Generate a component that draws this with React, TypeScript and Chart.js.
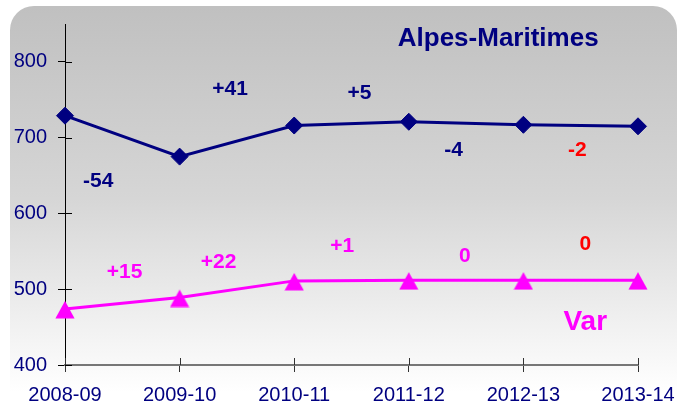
import React, { useEffect, useRef } from 'react';
import { Chart, registerables } from 'chart.js';

Chart.register(...registerables);

// ---- data ----
const seasons = ['2008-09', '2009-10', '2010-11', '2011-12', '2012-13', '2013-14'];
const alpesMaritimes = [729, 675, 716, 721, 717, 715];
const varDept = [474, 489, 511, 512, 512, 512];
const yTickValues = [400, 500, 600, 700, 800];

const amChanges = ['-54', '+41', '+5', '-4', '-2'];
const varChanges = ['+15', '+22', '+1', '0', '0'];

// annotation anchors in (category index, value) units
const amChangeX = [0.29, 1.44, 2.57, 3.39, 4.47];
const amChangeY = [643, 764, 759, 684, 684];
const varChangeX = [0.52, 1.34, 2.42, 3.49, 4.54];
const varChangeY = [523, 535, 557, 544, 559];

const NAVY = '#000080';
const MAGENTA = '#ff00ff';
const RED = '#ff0000';
const FONT = '"Liberation Sans", Arial, sans-serif';

function makeTriangle(color: string) {
  const c = document.createElement('canvas');
  c.width = 20;
  c.height = 20;
  const g = c.getContext('2d')!;
  g.fillStyle = color;
  g.beginPath();
  g.moveTo(10, 2);
  g.lineTo(19.6, 19.5);
  g.lineTo(0.4, 19.5);
  g.closePath();
  g.fill();
  return c;
}

const bgPlugin = {
  id: 'bgPanel',
  beforeDraw(chart: any) {
    const ctx = chart.ctx;
    const x0 = 10, y0 = 6, x1 = 677, y1 = 400, r = 24;
    ctx.save();
    const g = ctx.createLinearGradient(0, y0, 0, 392);
    g.addColorStop(0, '#c0c0c0');
    g.addColorStop(0.5, '#d6d6d6');
    g.addColorStop(1, '#ffffff');
    ctx.fillStyle = '#ffffff';
    ctx.fillRect(0, 0, chart.width, chart.height);
    ctx.fillStyle = g;
    ctx.beginPath();
    ctx.moveTo(x0, y1);
    ctx.lineTo(x0, y0 + r);
    ctx.arcTo(x0, y0, x0 + r, y0, r);
    ctx.lineTo(x1 - r, y0);
    ctx.arcTo(x1, y0, x1, y0 + r, r);
    ctx.lineTo(x1, y1);
    ctx.closePath();
    ctx.fill();
    ctx.restore();
  },
};

const annotPlugin = {
  id: 'annots',
  afterDraw(chart: any) {
    const ctx = chart.ctx;
    const xs = chart.scales.x;
    const ys = chart.scales.y;
    const area = chart.chartArea;
    ctx.save();
    // inner tick marks
    ctx.strokeStyle = '#000';
    ctx.lineWidth = 1;
    yTickValues.forEach((v) => {
      const y = Math.round(ys.getPixelForValue(v)) + 0.5;
      ctx.beginPath();
      ctx.moveTo(area.left, y);
      ctx.lineTo(area.left + 7, y);
      ctx.stroke();
    });
    ctx.strokeStyle = '#333';
    seasons.forEach((_, i) => {
      const x = Math.round(xs.getPixelForValue(i)) + 0.5;
      ctx.beginPath();
      ctx.moveTo(x, area.bottom - 7);
      ctx.lineTo(x, area.bottom);
      ctx.stroke();
    });

    ctx.textAlign = 'center';
    ctx.textBaseline = 'middle';
    ctx.font = `bold 21px ${FONT}`;
    amChanges.forEach((t, i) => {
      ctx.fillStyle = i === amChanges.length - 1 ? RED : NAVY;
      ctx.fillText(t, xs.getPixelForValue(amChangeX[i]), ys.getPixelForValue(amChangeY[i]));
    });
    varChanges.forEach((t, i) => {
      ctx.fillStyle = i === varChanges.length - 1 ? RED : MAGENTA;
      ctx.fillText(t, xs.getPixelForValue(varChangeX[i]), ys.getPixelForValue(varChangeY[i]));
    });
    ctx.font = `bold 26px ${FONT}`;
    ctx.fillStyle = NAVY;
    ctx.fillText('Alpes-Maritimes', xs.getPixelForValue(3.78), ys.getPixelForValue(831));
    ctx.font = `bold 28px ${FONT}`;
    ctx.fillStyle = MAGENTA;
    ctx.fillText('Var', xs.getPixelForValue(4.54), ys.getPixelForValue(457));
    ctx.restore();
  },
};

export default function App() {
  const ref = useRef<HTMLCanvasElement | null>(null);

  useEffect(() => {
    if (!ref.current) return;
    const tri = makeTriangle(MAGENTA);
    const chart = new Chart(ref.current, {
      type: 'line',
      data: {
        labels: seasons,
        datasets: [
          {
            label: 'Alpes-Maritimes',
            data: alpesMaritimes,
            borderColor: NAVY,
            backgroundColor: NAVY,
            borderWidth: 3,
            pointStyle: 'rectRot',
            pointRadius: 8.5,
            pointBorderWidth: 1,
            pointBackgroundColor: NAVY,
            pointBorderColor: NAVY,
            tension: 0,
            clip: false,
          },
          {
            label: 'Var',
            data: varDept,
            borderColor: MAGENTA,
            backgroundColor: MAGENTA,
            borderWidth: 3,
            pointStyle: tri,
            pointRadius: 10,
            pointBorderWidth: 0,
            pointBackgroundColor: MAGENTA,
            pointBorderColor: MAGENTA,
            tension: 0,
            clip: false,
          },
        ],
      },
      options: {
        animation: false,
        responsive: false,
        maintainAspectRatio: false,
        layout: { padding: { top: 24, right: 54, left: 0, bottom: 0 } },
        plugins: {
          legend: { display: false },
          tooltip: { enabled: false },
          title: { display: false },
        },
        scales: {
          x: {
            type: 'category',
            offset: false,
            grid: { display: true, drawOnChartArea: false, drawTicks: true, tickLength: 7, color: '#333', lineWidth: 1 },
            border: { display: true, color: '#777', width: 2 },
            ticks: {
              color: NAVY,
              font: { family: FONT, size: 20 },
              padding: 11,
              maxRotation: 0,
              autoSkip: false,
            },
            afterFit(scale: any) {
              scale.height = 43;
            },
          },
          y: {
            type: 'linear',
            min: 400,
            max: 850,
            afterBuildTicks(scale: any) {
              scale.ticks = yTickValues.map((v) => ({ value: v }));
            },
            grid: { display: true, drawOnChartArea: false, drawTicks: true, tickLength: 7, color: '#000', lineWidth: 1 },
            border: { display: true, color: '#000', width: 1 },
            ticks: {
              color: NAVY,
              font: { family: FONT, size: 20 },
              padding: 11,
            },
            afterFit(scale: any) {
              scale.width = 65;
            },
          },
        },
      },
      plugins: [bgPlugin, annotPlugin],
    });
    return () => chart.destroy();
  }, []);

  return (
    <div style={{ position: 'fixed', left: 0, top: 0, width: 692, height: 408, background: '#fff' }}>
      <canvas ref={ref} width={692} height={408} style={{ display: 'block', width: 692, height: 408 }} />
    </div>
  );
}
